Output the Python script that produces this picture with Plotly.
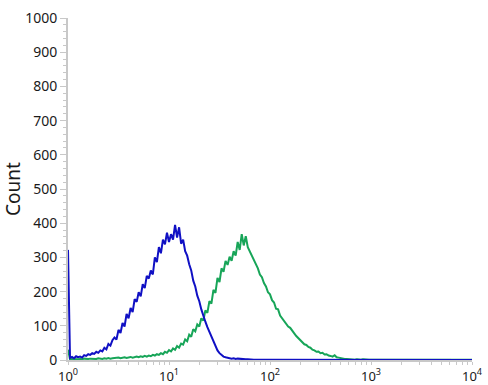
import numpy as np
import plotly.graph_objects as go

# histogram channels: log10 of fluorescence intensity, 0.02-decade bins
bin_step = 0.02
n_bins = 201

blue_counts = [
    322, 6, 9, 5, 11, 8, 10, 7, 14, 12,
    17, 15, 20, 18, 24, 21, 28, 25, 36, 31,
    47, 42, 58, 66, 60, 88, 79, 108, 98, 135,
    122, 152, 140, 178, 170, 198, 186, 222, 210, 246,
    238, 262, 250, 300, 286, 330, 312, 352, 338, 372,
    345, 368, 352, 395, 358, 388, 340, 352, 318, 305,
    280, 262, 232, 215, 188, 172, 148, 128, 112, 96,
    82, 70, 52, 40, 28, 20, 14, 10, 8, 6,
    5, 4, 5, 3, 4, 3, 2, 3, 2, 2,
    1, 2, 1, 1, 2, 1, 1, 1, 0, 1,
    1, 0, 1, 1, 0, 1, 0, 1, 0, 0,
    1, 0, 0, 1, 0, 0, 0, 1, 0, 0,
    0, 0, 0, 0, 0, 0, 0, 0, 0, 0,
    0, 0, 0, 0, 0, 0, 0, 0, 0, 0,
    0, 0, 0, 0, 0, 0, 0, 0, 0, 0,
    0, 0, 0, 0, 0, 0, 0, 0, 0, 0,
    0, 0, 0, 0, 0, 0, 0, 0, 0, 0,
    0, 0, 0, 0, 0, 0, 0, 0, 0, 0,
    0, 0, 0, 0, 0, 0, 0, 0, 0, 0,
    0, 0, 0, 0, 0, 0, 0, 0, 0, 0,
    0,
]

green_counts = [
    30, 2, 3, 2, 3, 2, 3, 2, 4, 3,
    3, 4, 3, 4, 3, 5, 4, 3, 5, 4,
    6, 4, 5, 6, 5, 7, 5, 6, 8, 6,
    7, 9, 7, 8, 10, 8, 11, 9, 12, 10,
    13, 11, 15, 13, 17, 15, 20, 17, 24, 21,
    29, 25, 34, 30, 41, 36, 48, 45, 60, 55,
    74, 68, 90, 84, 104, 98, 122, 115, 145, 138,
    172, 165, 205, 196, 240, 228, 268, 258, 290, 278,
    302, 290, 318, 305, 345, 322, 368, 335, 362, 330,
    318, 305, 292, 280, 268, 250, 242, 225, 215, 198,
    192, 175, 168, 150, 148, 130, 122, 112, 105, 98,
    94, 84, 78, 70, 64, 56, 52, 46, 44, 38,
    36, 30, 28, 24, 25, 20, 21, 16, 17, 13,
    12, 10, 14, 8, 7, 5, 4, 3, 3, 2,
    2, 2, 1, 2, 1, 1, 2, 1, 1, 1,
    1, 1, 1, 1, 1, 1, 1, 1, 1, 1,
    1, 1, 1, 1, 1, 1, 1, 1, 1, 1,
    1, 1, 1, 1, 1, 1, 1, 1, 1, 1,
    1, 1, 1, 1, 1, 1, 1, 1, 1, 1,
    1, 1, 1, 1, 1, 1, 1, 1, 1, 1,
    1,
]

x_tick_vals = [1, 10, 100, 1000, 10000]
x_tick_text = ["10<sup>0</sup>", "10<sup>1</sup>", "10<sup>2</sup>", "10<sup>3</sup>", "10<sup>4</sup>"]
y_tick_vals = [0, 100, 200, 300, 400, 500, 600, 700, 800, 900, 1000]

channels = 10 ** (np.arange(n_bins) * bin_step)

FONT = "Noto Sans"
AXIS_GRAY = "#c8c8c8"
TEXT = "#1a1a1a"

fig = go.Figure()
fig.add_trace(go.Scatter(x=channels, y=green_counts, mode="lines",
                         line=dict(color="#17a558", width=2), showlegend=False))
fig.add_trace(go.Scatter(x=channels, y=blue_counts, mode="lines",
                         line=dict(color="#1010c4", width=2), showlegend=False))

fig.update_layout(
    width=488, height=385,
    margin=dict(l=68, r=16, t=18, b=25),
    paper_bgcolor="white", plot_bgcolor="white",
    font=dict(family=FONT, size=14, color=TEXT),
)
fig.update_xaxes(
    type="log", range=[0, 4], automargin=False,
    showgrid=False, zeroline=False,
    showline=True, linecolor=AXIS_GRAY, linewidth=2,
    tickvals=x_tick_vals, ticktext=x_tick_text,
    ticks="outside", ticklen=3, tickcolor=AXIS_GRAY, tickwidth=1,
    minor=dict(ticks="outside", ticklen=3, tickcolor=AXIS_GRAY, dtick="D1", showgrid=False),
    tickfont=dict(size=13, family=FONT, color=TEXT),
)
fig.update_yaxes(
    range=[0, 1000], automargin=False,
    showgrid=False, zeroline=False,
    showline=True, linecolor=AXIS_GRAY, linewidth=2,
    tickvals=y_tick_vals,
    ticks="outside", ticklen=6, tickcolor=AXIS_GRAY, tickwidth=1,
    minor=dict(ticks="outside", ticklen=3, tickcolor=AXIS_GRAY, dtick=20, showgrid=False),
    tickfont=dict(size=14, family=FONT, color=TEXT),
    title=dict(text="Count", font=dict(size=19, family=FONT, color=TEXT), standoff=3),
)

fig.write_html(
    "out.html",
    config={"displayModeBar": False},
    post_script="document.body.style.margin='0';document.body.style.overflow='hidden';",
)
